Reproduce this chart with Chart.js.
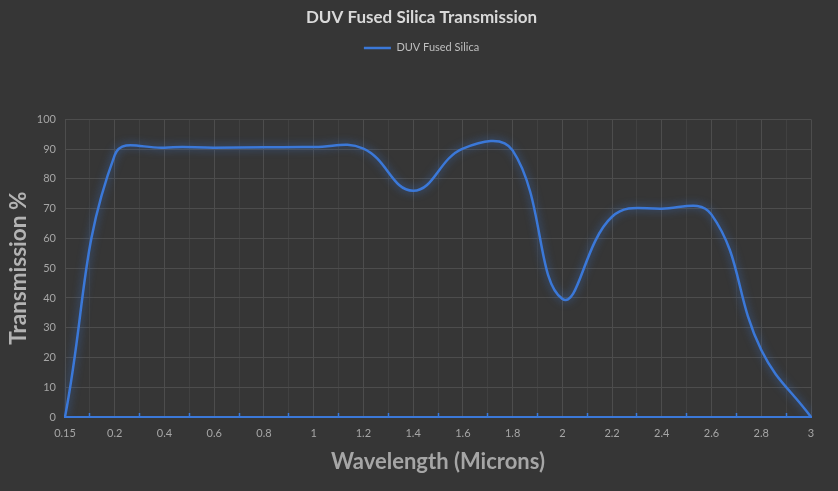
<!DOCTYPE html>
<html>
<head>
<meta charset="utf-8">
<script src="https://cdn.jsdelivr.net/npm/chart.js@4.4.1/dist/chart.umd.min.js"></script>
<style>
  html, body { margin: 0; padding: 0; background: #363636; }
  #wrap { width: 838px; height: 491px; }
</style>
</head>
<body>
<div id="wrap"><canvas id="transChart"></canvas></div>
<script>
// Wavelength categories (microns) and transmission values (%)
const wavelengths = ['0.15', '0.2', '0.4', '0.6', '0.8', '1', '1.2', '1.4',
  '1.6', '1.8', '2', '2.2', '2.4', '2.6', '2.8', '3'];
const transmission = [0, 88, 90.5, 90.5, 90.6, 90.7, 90.2, 76,
  90.2, 89.6, 39.7, 67.3, 70, 68, 22.5, 0];
const yMin = 0;
const yMax = 100;
const yStep = 10;

const blue = '#3b78d8';
const majorGrid = '#4d4d4d';
const minorGrid = '#414141';
const font = 'Lato, "Noto Sans", sans-serif';

// soft glow under the line, like the Excel effect
const glow = {
  id: 'glow',
  beforeDatasetDraw(chart) {
    const c = chart.ctx;
    c.save();
    c.shadowColor = 'rgba(59, 120, 216, 0.75)';
    c.shadowBlur = 8;
  },
  afterDatasetDraw(chart) {
    chart.ctx.restore();
  },
};

// push the plot area down below the legend
const legendGap = {
  id: 'legendGap',
  beforeInit(chart) {
    const fit = chart.legend.fit;
    chart.legend.fit = function () {
      fit.bind(chart.legend)();
      this.height += 56;
    };
  },
};

const ctx = document.getElementById('transChart');

new Chart(ctx, {
  type: 'line',
  data: {
    labels: wavelengths,
    datasets: [
      {
        label: 'DUV Fused Silica',
        data: transmission,
        borderColor: blue,
        backgroundColor: blue,
        borderWidth: 2.5,
        tension: 0.42,
        fill: false,
        pointStyle: 'line',
        pointRadius: 0,
        pointHoverRadius: 0,
        xAxisID: 'x',
        yAxisID: 'y',
      },
    ],
  },
  options: {
    responsive: true,
    maintainAspectRatio: false,
    animation: false,
    layout: {
      padding: { left: 5, right: 0, top: 0, bottom: 0 },
    },
    plugins: {
      title: {
        display: true,
        text: 'DUV Fused Silica Transmission',
        color: '#d9d9d9',
        font: { family: font, size: 17, weight: 'bold' },
        padding: { top: 7, bottom: 10 },
      },
      legend: {
        display: true,
        labels: {
          color: '#bfbfbf',
          font: { family: font, size: 11 },
          usePointStyle: true,
          pointStyle: 'line',
          pointStyleWidth: 27,
          padding: 5,
        },
      },
      tooltip: { enabled: false },
    },
    scales: {
      x2: {
        type: 'category',
        position: 'bottom',
        weight: 0,
        offset: false,
        grid: {
          offset: true,
          color: minorGrid,
          drawTicks: true,
          tickLength: -4,
          tickColor: blue,
          tickWidth: 1.5,
        },
        border: { display: false },
        ticks: { display: false },
        afterFit(scale) {
          scale.height = 0;
        },
      },
      x: {
        type: 'category',
        position: 'bottom',
        weight: 1,
        offset: false,
        grid: {
          color: majorGrid,
          drawTicks: false,
        },
        border: { display: true, color: blue, width: 2 },
        ticks: {
          color: '#a6a6a6',
          font: { family: font, size: 11 },
          padding: 10,
          maxRotation: 0,
          autoSkip: false,
        },
        title: {
          display: true,
          text: 'Wavelength (Microns)',
          color: '#a6a6a6',
          font: { family: font, size: 22, weight: 'bold' },
          padding: { top: 0, bottom: 16 },
        },
        afterFit(scale) {
          scale.height = 74;
        },
      },
      y: {
        position: 'left',
        min: yMin,
        max: yMax,
        grid: {
          color: majorGrid,
          drawTicks: false,
        },
        border: { display: false },
        ticks: {
          stepSize: yStep,
          color: '#a6a6a6',
          font: { family: font, size: 11 },
          padding: 9,
        },
        title: {
          display: true,
          text: 'Transmission %',
          color: '#b3b3b3',
          font: { family: font, size: 22.5, weight: 'bold' },
          padding: { top: 0, bottom: 0 },
        },
        afterFit(scale) {
          scale.width = 60;
        },
      },
      // empty right-hand strip so the title stays centred on the page
      yRight: {
        position: 'right',
        display: true,
        grid: { display: false },
        border: { display: false },
        ticks: { display: false },
        afterFit(scale) {
          scale.width = 27;
        },
      },
    },
  },
  plugins: [glow, legendGap],
});
</script>
</body>
</html>
